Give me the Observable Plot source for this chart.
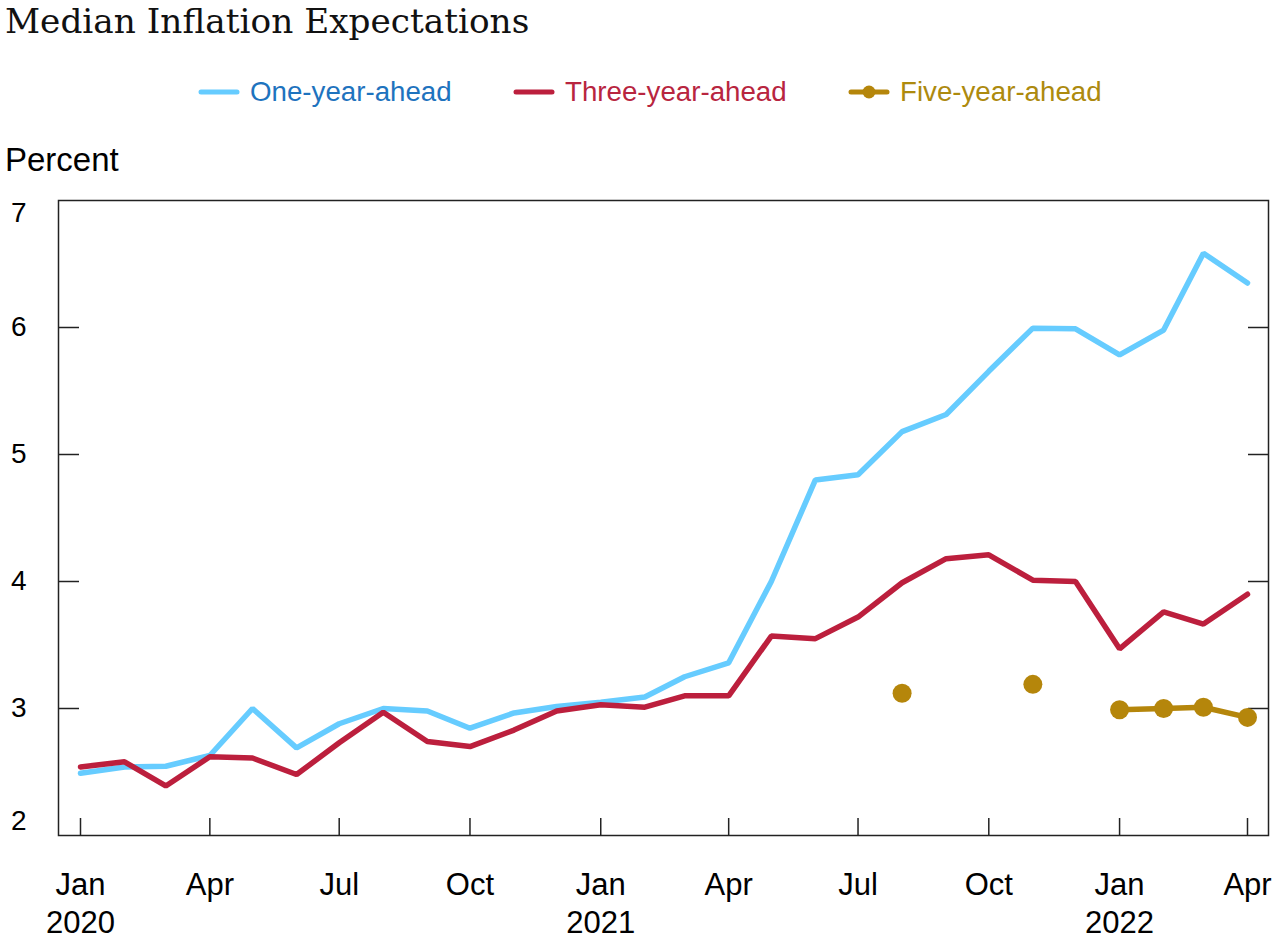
<!DOCTYPE html>
<html>
<head>
<meta charset="utf-8">
<script src="https://cdn.jsdelivr.net/npm/d3@7"></script>
<script src="https://cdn.jsdelivr.net/npm/@observablehq/plot@0.6"></script>
<style>
  body { margin: 0; background: #fff; width: 1280px; height: 944px; position: relative; overflow: hidden; font-family: "Liberation Sans", Arial, sans-serif; }
  #title { position: absolute; left: 5px; top: 4px; font-family: "DejaVu Serif", Georgia, serif; font-size: 34.3px; line-height: 34px; color: #111; white-space: nowrap; }
  .item { position: absolute; top: 75px; height: 34px; display: flex; align-items: center; font-size: 27.7px; line-height: 34px; white-space: nowrap; }
  .item svg { margin-right: 10px; }
  #unit { position: absolute; left: 5px; top: 144px; font-size: 33px; line-height: 32px; color: #000; }
  #chart { position: absolute; left: 0; top: 180px; }
</style>
</head>
<body>
<div id="title">Median Inflation Expectations</div>
<div id="legend"></div>
<div id="unit">Percent</div>
<div id="chart"></div>
<script>
// ---- Data ----
const months = [
  "2020-01","2020-02","2020-03","2020-04","2020-05","2020-06","2020-07","2020-08","2020-09","2020-10","2020-11","2020-12",
  "2021-01","2021-02","2021-03","2021-04","2021-05","2021-06","2021-07","2021-08","2021-09","2021-10","2021-11","2021-12",
  "2022-01","2022-02","2022-03","2022-04"
];
const oneYear = [
  2.49, 2.54, 2.545, 2.63, 3.00, 2.69, 2.88, 3.00, 2.98, 2.845, 2.965, 3.016,
  3.05, 3.09, 3.25, 3.36, 4.00, 4.80, 4.84, 5.18, 5.315, 5.655, 5.995, 5.99,
  5.785, 5.98, 6.585, 6.35
];
const threeYear = [
  2.54, 2.58, 2.39, 2.62, 2.61, 2.48, 2.73, 2.97, 2.74, 2.70, 2.83, 2.98,
  3.03, 3.01, 3.10, 3.10, 3.57, 3.55, 3.72, 3.99, 4.18, 4.21, 4.01, 4.00,
  3.47, 3.76, 3.665, 3.90
];
const fiveYear = [
  null, null, null, null, null, null, null, null, null, null, null, null,
  null, null, null, null, null, null, null, 3.12, null, null, 3.19, null,
  2.99, 3.00, 3.01, 2.93
];
const seriesNames = ["One-year-ahead", "Three-year-ahead", "Five-year-ahead"];
const lineColors = ["#66CCFF", "#BC1F3D", "#B5860B"];
const textColors = ["#1E73BE", "#B8253F", "#AD8A0E"];
const xTickMonths = ["2020-01","2020-04","2020-07","2020-10","2021-01","2021-04","2021-07","2021-10","2022-01","2022-04"];
const monthNames = ["Jan","Feb","Mar","Apr","May","Jun","Jul","Aug","Sep","Oct","Nov","Dec"];
const yTicksInner = [3, 4, 5, 6];
const yTickTop = [7];
const yTickBottom = [2];

// ---- Build ----
const parse = d3.utcParse("%Y-%m");
const dates = months.map(parse);
const xTicks = xTickMonths.map(parse);
const rows = (vals) => dates.map((d, i) => ({date: d, value: vals[i] == null ? NaN : vals[i]}));
const rowsOne = rows(oneYear), rowsThree = rows(threeYear), rowsFive = rows(fiveYear);
const fmt = d => d.getUTCMonth() === 0 ? `${monthNames[0]}\n${d.getUTCFullYear()}` : monthNames[d.getUTCMonth()];
const yFmt = d => String(d);

// Legend
const legendLefts = [198, 513, 848];
const legend = document.getElementById("legend");
seriesNames.forEach((name, i) => {
  const el = document.createElement("div");
  el.className = "item";
  el.style.left = legendLefts[i] + "px";
  el.style.color = textColors[i];
  const dot = i === 2 ? `<circle cx="21" cy="8" r="6.5" fill="${lineColors[i]}"/>` : "";
  el.innerHTML = `<svg width="42" height="16"><line x1="3" y1="8" x2="39" y2="8" stroke="${lineColors[i]}" stroke-width="5" stroke-linecap="round"/>${dot}</svg><span>${name}</span>`;
  legend.appendChild(el);
});

const ink = "#222";
const chart = Plot.plot({
  width: 1280,
  height: 764,
  marginTop: 20,
  marginBottom: 109,
  marginLeft: 58,
  marginRight: 12,
  style: {fontFamily: '"Liberation Sans", Arial, sans-serif', color: "#000", background: "#fff", overflow: "visible"},
  x: {type: "utc", domain: [dates[0], dates[dates.length - 1]], insetLeft: 22, insetRight: 21},
  y: {domain: [2, 7]},
  marks: [
    Plot.axisX({anchor: "bottom", ticks: xTicks, tickSize: 17, dy: -17, tickFormat: () => "", label: null, stroke: ink, strokeWidth: 1.5}),
    Plot.axisX({anchor: "bottom", ticks: xTicks, tickSize: 0, tickPadding: 32, tickFormat: fmt, fontSize: 31, lineHeight: 1.23, label: null, fill: "#000"}),
    Plot.axisY({anchor: "left", ticks: yTicksInner, tickSize: 21, dx: 21, tickFormat: () => "", label: null, stroke: ink, strokeWidth: 1.5}),
    Plot.axisY({anchor: "right", ticks: yTicksInner, tickSize: 21, dx: -21, tickFormat: () => "", label: null, stroke: ink, strokeWidth: 1.5}),
    Plot.axisY({anchor: "left", ticks: yTicksInner, tickFormat: yFmt, tickSize: 0, tickPadding: 32, fontSize: 28, label: null, fill: "#000"}),
    Plot.axisY({anchor: "left", ticks: yTickTop, tickFormat: yFmt, tickSize: 0, tickPadding: 32, fontSize: 28, dy: 13, label: null, fill: "#000"}),
    Plot.axisY({anchor: "left", ticks: yTickBottom, tickFormat: yFmt, tickSize: 0, tickPadding: 32, fontSize: 28, dy: -14, label: null, fill: "#000"}),
    Plot.frame({stroke: ink, strokeWidth: 1.5}),
    Plot.line(rowsOne, {x: "date", y: "value", stroke: lineColors[0], strokeWidth: 5.5, strokeLinejoin: "miter"}),
    Plot.line(rowsThree, {x: "date", y: "value", stroke: lineColors[1], strokeWidth: 5.5, strokeLinejoin: "miter"}),
    Plot.line(rowsFive, {x: "date", y: "value", stroke: lineColors[2], strokeWidth: 5.5}),
    Plot.dot(rowsFive.filter(d => !isNaN(d.value)), {x: "date", y: "value", fill: lineColors[2], r: 9.5})
  ]
});
document.getElementById("chart").appendChild(chart);
</script>
</body>
</html>
